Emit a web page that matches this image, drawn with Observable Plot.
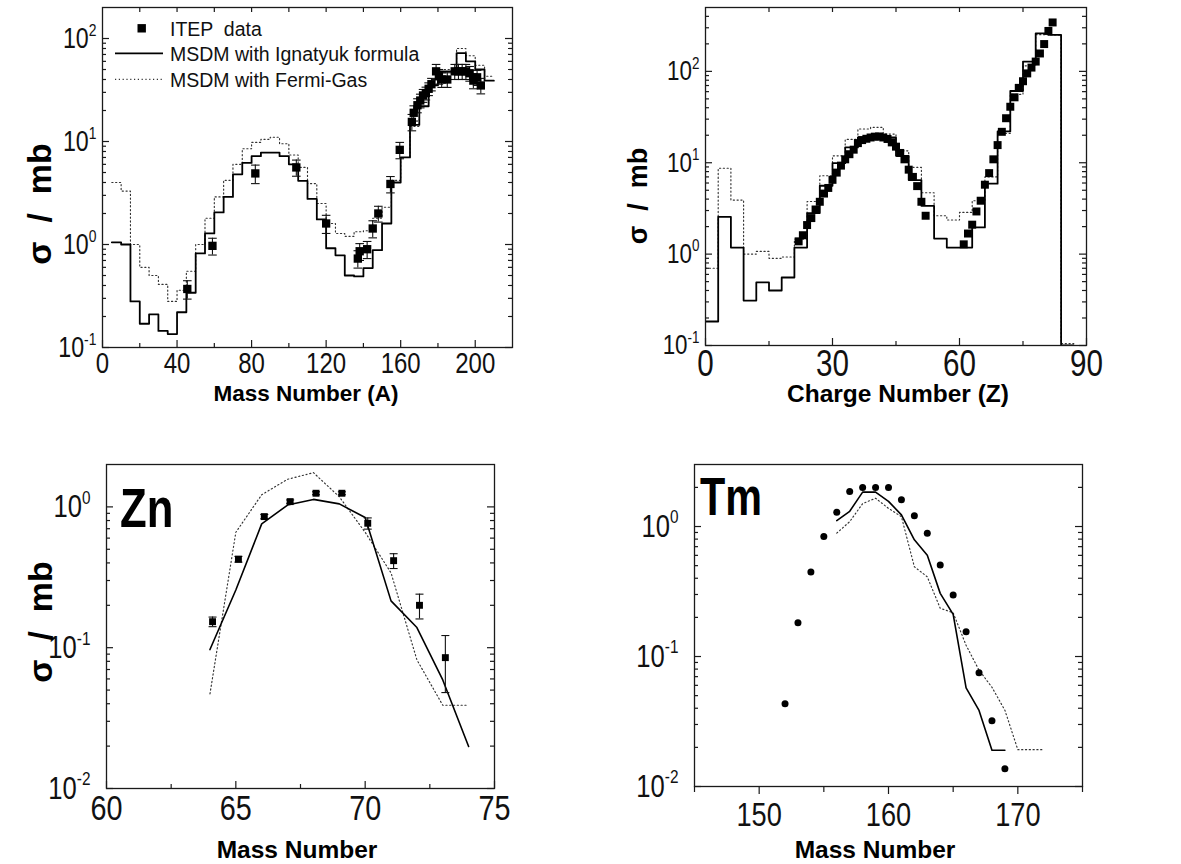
<!DOCTYPE html>
<html><head><meta charset="utf-8">
<script src="https://cdn.jsdelivr.net/npm/d3@7"></script>
<script src="https://cdn.jsdelivr.net/npm/@observablehq/plot@0.6"></script>
<style>
html,body{margin:0;padding:0;background:#fff;}
#chart{position:relative;width:1181px;height:864px;overflow:hidden;background:#fff;}
.panel{position:absolute;}
</style></head><body><div id="chart"></div>
<script>
// ---------------- Panel (a): mass distribution ----------------
const massBinStart = [5,10,15,20,25,30,35,40,45,50,55,60,65,70,75,80,85,90,95,100,105,110,115,120,125,130,135,140,145,150,155,160,165,170,175,180,185,190,195,200,205];
const massBinWidth = 5;
const sigmaIgnatyukA = [1.05,1.0,0.28,0.17,0.21,0.145,0.135,0.22,0.34,0.82, 1.28,2.05,2.9,4.8,6.2,7.2,7.8,7.8,7.2,6.0, 4.15,2.77,1.75,0.92,0.785,0.50,0.49,0.59,0.88,1.6, 4.0,7.0,14.5,22,35,48,48,72,60,50, 39];
const sigmaFermiGasA = [4.0,3.3,1.0,0.6,0.5,0.41,0.28,0.36,0.55,1.0, 1.8,2.9,4.2,6.0,8.5,9.8,10.5,11,9.5,7.4, 5.6,3.9,2.5,1.6,1.28,1.2,1.33,1.36,1.8,2.3, 4.2,7.0,14,22,36,50,50,80,68,55, 43];
const itepMass = [45.5,59,82,104,120,137,138,142,145,148, 154.5,159.5,166,167,169,170.5,172,173.5,175,176.5, 179,180.5,182,185,189,191,193,195,197,199,201,203];
const itepSigmaA = [0.37,0.97,4.9,5.6,1.6,0.73,0.86,0.9,1.43,2.0, 3.87,8.3,15.5,19,22.5,25,28,29.5,32.5,36, 48,43,40,40,48,48,48,48,46,39,42,35];
const itepErrA = [0.075,0.18,1.0,1.0,0.32,0.14,0.16,0.17,0.27,0.35, 0.7,1.5,2.8,3.2,3.5,3.8,4,4.2,4.6,5, 8,7,6.5,6.5,8,8,8,8,7.5,6.5,7,6];

// ---------------- Panel (b): charge distribution ----------------
const chargeBinStart = [0,3,6,9,12,15,18,21,24,27,30,33,36,39,42,45,48,51,54,57,60,63,66,69,72,75,78,81,84];
const chargeBinWidth = 3;
const sigmaIgnatyukZ = [0.183,2.56,1.18,0.31,0.49,0.40,0.555,1.18,2.81,5.6, 9.9,14.7,18.9,19.8,18.9,11.9,6.46,3.38,1.48,1.18, 1.18,1.96,5.9,22,61,128,261,251,0.1];
const sigmaFermiGasZ = [0.70,8.7,3.9,1.0,1.07,0.90,0.93,1.46,3.77,7.2, 11.9,18,23.4,24.4,20.6,13.5,8.9,4.7,2.63,2.36, 2.86,3.84,7.0,21,56,115,252,250,0.105];
const itepCharge = [22,23,24,25,26,27,28,29,30,31,32,33,34,35,36,37,38,39,40,41,42,43,44,45,46,47,48,49,50,51,52, 61,62,63,64,65,66,67,68,69,70,71,72,73,74,75,76,77,78,79,80,81,82];
const itepSigmaZ = [1.38,1.61,2.08,2.48,3.08,3.74,4.6,5.3,6.5,7.8, 9.3,10.9,12.4,13.9,16.4,17.7,18.3,18.9,19.3,19.4, 18.9,18.2,16.7,15,12.8,10.9,8.4,7.0,5.55,3.74, 2.63,
  1.28,1.68,2.1,2.93,3.84,5.75,7.7,10.9,15.6,21.8, 30.7,41,52,66,78,95,110,128,157,199, 277,343];

// ---------------- Panel (c): Zn isotopes ----------------
const massZnModel = [64,65,66,67,68,69,70,71,72,73,74];
const sigmaIgnatyukZn = [0.097,0.257,0.757,1.03,1.13,1.05,0.84,0.215,0.139,0.059,0.0199];
const sigmaFermiGasZn = [0.047,0.66,1.22,1.57,1.75,1.18,0.66,0.34,0.082,0.039,0.039];
const itepMassZn = [64.1,65.1,66.1,67.1,68.1,69.1,70.1,71.1,72.1,73.1];
const itepSigmaZn = [0.153,0.425,0.853,1.09,1.25,1.25,0.765,0.415,0.20,0.085];
const itepErrZn = [0.012,0.02,0.03,0.03,0.03,0.03,0.07,0.05,0.04,0.037];

// ---------------- Panel (d): Tm isotopes ----------------
const massTmIg = [156,157,158,159,160,161,162,163,164,165,166,167,168,169];
const sigmaIgnatyukTm = [1.11,1.31,1.84,1.84,1.56,1.23,0.79,0.60,0.306,0.211,0.0574,0.0385,0.019,0.019];
const massTmFg = [156,157,158,159,160,161,162,163,164,165,166,167,168,169,170,171,172];
const sigmaFermiGasTm = [0.89,1.09,1.50,1.65,1.38,1.19,0.49,0.41,0.235,0.217,0.122,0.0785,0.058,0.0386,0.0192,0.0192,0.0192];
const itepMassTm = [152,153,154,155,156,157,158,159,160,161,162,163,164,165,166,167,168,169];
const itepSigmaTm = [0.0434,0.182,0.447,0.837,1.29,1.86,2.0,2.0,2.0,1.61,1.21,0.888,0.506,0.297,0.155,0.075,0.032,0.0137];

// ---------------- Text ----------------
const legendLabels = ["ITEP  data", "MSDM with Ignatyuk formula", "MSDM with Fermi-Gas"];
const yTitle = "σ  /  mb";

// ---------------- helpers ----------------
const FONT = '"Liberation Sans", Arial, Helvetica, sans-serif';
const SQUEEZE = 0.8;
function steps(starts, vals, w) {
  const pts = starts.map((x, i) => ({x, y: vals[i]}));
  pts.push({x: starts[starts.length - 1] + w, y: vals[vals.length - 1]});
  return pts;
}
function pairs(xs, ys, es) { return xs.map((x, i) => ({x, y: ys[i], e: es ? es[i] : 0})); }
function logMajor([lo, hi]) { const o = []; for (let e = Math.ceil(Math.log10(lo) - 1e-9); e <= Math.floor(Math.log10(hi) + 1e-9); e++) o.push(10 ** e); return o; }
function logMinor([lo, hi]) { const o = []; for (let e = Math.floor(Math.log10(lo)); e <= Math.ceil(Math.log10(hi)); e++) for (let k = 2; k <= 9; k++) { const v = k * 10 ** e; if (v > lo * 1.0001 && v < hi * 0.9999) o.push(v); } return o; }
const capSymbol = { draw(ctx, size) { const w = Math.sqrt(size / Math.PI); ctx.moveTo(-w, 0); ctx.lineTo(w, 0); } };
const SOLID = {stroke: "#000", strokeWidth: 1.8, clip: true};
const DOTTED = {stroke: "#333", strokeWidth: 1.15, strokeDasharray: "1.2 2.6", clip: true};

// horizontally condense a text about its anchor point (keeps em-based y offsets)
function squeeze(el, s) {
  let tr = el.getAttribute("transform") || "";
  const x = el.getAttribute("x");
  if (x != null && /^-?[\d.]+$/.test(x)) { tr += ` translate(${+x},0)`; el.removeAttribute("x"); }
  el.setAttribute("transform", tr + ` scale(${s},1)`);
}

function makePanel(c) {
  const pw = c.width - c.ml - c.mr, ph = c.height - c.mt - c.mb;
  const yMaj = logMajor(c.yDomain), yMin = logMinor(c.yDomain);
  const S = {stroke: "#1a1a1a", strokeWidth: 1.2};
  const MAJ = 7, MIN = 4;
  const ticks = [];
  const bottom = (vals, len) => c.xOut
    ? Plot.tickX(vals, {x: d => d, insetTop: ph, insetBottom: -len, ...S})
    : Plot.tickX(vals, {x: d => d, insetTop: ph - len, ...S});
  ticks.push(bottom(c.xMajor, MAJ + (c.xOut ? 1 : 0)), bottom(c.xMinor, MIN + (c.xOut ? 2 : 0)));
  if (c.topTicks) ticks.push(Plot.tickX(c.topTicks, {x: d => d, insetBottom: ph - 5, ...S}));
  ticks.push(Plot.tickY(yMaj, {y: d => d, insetRight: pw - MAJ, ...S}));
  ticks.push(Plot.tickY(yMin, {y: d => d, insetRight: pw - MIN, ...S}));
  ticks.push(Plot.tickY(yMaj, {y: d => d, insetLeft: pw - MAJ, ...S}));
  ticks.push(Plot.tickY(yMin, {y: d => d, insetLeft: pw - MIN, ...S}));

  const svg = Plot.plot({
    width: c.width, height: c.height,
    marginTop: c.mt, marginRight: c.mr, marginBottom: c.mb, marginLeft: c.ml,
    x: {domain: c.xDomain, label: null},
    y: {type: "log", domain: c.yDomain, label: null},
    style: {fontFamily: FONT, background: "transparent", color: "#111", overflow: "visible"},
    marks: [
      ...c.marks,
      ...ticks,
      Plot.frame({stroke: "#1a1a1a", strokeWidth: 1.3}),
      Plot.axisX({ticks: c.xMajor, tickSize: 0, tickPadding: c.xPad, fontSize: c.xFont, tickFormat: d => String(d), label: null}),
      Plot.axisY({ticks: yMaj, tickSize: 0, tickPadding: c.yPad, fontSize: c.yFont, tickFormat: d => "10^" + Math.round(Math.log10(d)), label: null})
    ]
  });
  const s = d3.select(svg);
  s.selectAll('g[aria-label="y-axis tick label"] text').each(function () {
    const m = this.textContent.match(/^10\^(-?\d+)$/);
    if (m) {
      this.textContent = "10";
      d3.select(this).append("tspan").attr("dy", -0.42 * c.yFont).attr("font-size", 0.6 * c.yFont).text(m[1]);
    }
    squeeze(this, SQUEEZE);
  });
  s.selectAll('g[aria-label="x-axis tick label"] text').each(function () { squeeze(this, SQUEEZE); });

  // axis titles
  s.append("text").attr("x", c.xTitle.x).attr("y", c.xTitle.y).attr("text-anchor", "middle")
    .attr("font-weight", "bold").attr("font-size", c.xTitle.size).attr("fill", "#000").text(c.xTitle.text);
  if (c.yTitleCfg) {
    s.append("text").attr("transform", `translate(${c.yTitleCfg.x},${c.yTitleCfg.y}) rotate(-90)`)
      .attr("text-anchor", "middle").attr("font-weight", "bold").attr("font-size", c.yTitleCfg.size)
      .attr("fill", "#000").style("white-space", "pre").text(yTitle);
  }
  if (c.tag) {
    s.append("text").attr("transform", `translate(${c.tag.x},${c.tag.y}) scale(${0.78},1)`)
      .attr("text-anchor", "start").attr("font-weight", "bold").attr("font-size", c.tag.size)
      .attr("fill", "#000").text(c.tag.text);
  }
  if (c.after) c.after(s, c);
  return svg;
}

const chart = document.getElementById("chart");
function addPanel(c) {
  const div = document.createElement("div");
  div.className = "panel"; div.style.left = c.left + "px"; div.style.top = c.top + "px";
  div.appendChild(makePanel(c)); chart.appendChild(div);
}

function errorMarks(data, r) {
  return [
    Plot.ruleX(data, {x: "x", y1: d => d.y - d.e, y2: d => d.y + d.e, stroke: "#111", strokeWidth: 1.1}),
    Plot.dot(data, {x: "x", y: d => d.y - d.e, symbol: capSymbol, r, fill: "none", stroke: "#111", strokeWidth: 1.1}),
    Plot.dot(data, {x: "x", y: d => d.y + d.e, symbol: capSymbol, r, fill: "none", stroke: "#111", strokeWidth: 1.1})
  ];
}

// ---- Panel (a)
const itepA = pairs(itepMass, itepSigmaA, itepErrA);
addPanel({
  left: 0, top: 0, width: 590, height: 420, ml: 102, mt: 7, mr: 78, mb: 73,
  xDomain: [0, 220], yDomain: [0.1, 200],
  xMajor: [0, 40, 80, 120, 160, 200], xMinor: [20, 60, 100, 140, 180],
  topTicks: [20, 40, 60, 80, 100, 120, 140, 160, 180, 200],
  xFont: 30, xPad: 4, yFont: 29, yPad: 6,
  xTitle: {text: "Mass Number (A)", x: 306, y: 401, size: 22.5},
  yTitleCfg: {x: 51, y: 204, size: 34},
  marks: [
    Plot.line(steps(massBinStart, sigmaFermiGasA, massBinWidth), {x: "x", y: "y", curve: "step-after", ...DOTTED}),
    Plot.line(steps(massBinStart, sigmaIgnatyukA, massBinWidth), {x: "x", y: "y", curve: "step-after", ...SOLID}),
    ...errorMarks(itepA, 4.3),
    Plot.dot(itepA, {x: "x", y: "y", symbol: "square", r: 4.7, fill: "#000"})
  ],
  after(s, c) {
    const x0 = 115, x1 = 163, tx = 170, fs = 19.5;
    s.append("rect").attr("x", 141.7 - 4.2).attr("y", 28.3 - 4.2).attr("width", 8.4).attr("height", 8.4).attr("fill", "#000");
    s.append("line").attr("x1", x0).attr("x2", x1).attr("y1", 53.3).attr("y2", 53.3).attr("stroke", "#000").attr("stroke-width", 1.8);
    s.append("line").attr("x1", x0).attr("x2", x1).attr("y1", 79.3).attr("y2", 79.3).attr("stroke", "#333").attr("stroke-width", 1.15).attr("stroke-dasharray", "1.2 2.6");
    [35.5, 60.5, 86.5].forEach((y, i) => s.append("text").attr("x", tx).attr("y", y).attr("font-size", fs)
      .attr("text-anchor", "start").attr("fill", "#111").style("white-space", "pre").text(legendLabels[i]));
  }
});

// ---- Panel (b)
addPanel({
  left: 590, top: 0, width: 591, height: 420, ml: 115, mt: 7, mr: 95, mb: 75,
  xDomain: [0, 90], yDomain: [0.1, 500],
  xMajor: [0, 30, 60, 90], xMinor: [15, 45, 75],
  topTicks: [15, 30, 45, 60, 75],
  xFont: 37, xPad: 4, yFont: 28, yPad: 6,
  xTitle: {text: "Charge Number (Z)", x: 308, y: 402, size: 24.5},
  yTitleCfg: {x: 57, y: 196, size: 27},
  marks: [
    Plot.line(steps(chargeBinStart, sigmaFermiGasZ, chargeBinWidth), {x: "x", y: "y", curve: "step-after", ...DOTTED}),
    Plot.line(steps(chargeBinStart, sigmaIgnatyukZ, chargeBinWidth), {x: "x", y: "y", curve: "step-after", ...SOLID}),
    Plot.dot(pairs(itepCharge, itepSigmaZ), {x: "x", y: "y", symbol: "square", r: 4.5, fill: "#000"})
  ]
});

// ---- Panel (c)
const itepZn = pairs(itepMassZn, itepSigmaZn, itepErrZn);
addPanel({
  left: 0, top: 430, width: 590, height: 434, ml: 106, mt: 34, mr: 96, mb: 76,
  xDomain: [60, 75], yDomain: [0.01, 2],
  xMajor: [60, 65, 70, 75], xMinor: [62.5, 67.5, 72.5],
  xFont: 36, xPad: 6, yFont: 32, yPad: 16,
  xTitle: {text: "Mass Number", x: 297, y: 428, size: 24.5},
  yTitleCfg: {x: 52, y: 192, size: 34},
  tag: {text: "Zn", x: 120, y: 97, size: 56},
  marks: [
    Plot.line(pairs(massZnModel, sigmaFermiGasZn), {x: "x", y: "y", ...DOTTED}),
    Plot.line(pairs(massZnModel, sigmaIgnatyukZn), {x: "x", y: "y", ...SOLID, strokeWidth: 1.6}),
    ...errorMarks(itepZn, 4),
    Plot.dot(itepZn, {x: "x", y: "y", symbol: "square", r: 3.9, fill: "#000"})
  ]
});

// ---- Panel (d)
addPanel({
  left: 590, top: 430, width: 591, height: 434, ml: 104, mt: 34, mr: 99, mb: 78,
  xDomain: [145, 175], yDomain: [0.01, 3],
  xMajor: [150, 160, 170], xMinor: [145, 155, 165, 175], xOut: true,
  xFont: 34, xPad: 15, yFont: 32, yPad: 16,
  xTitle: {text: "Mass Number", x: 285, y: 428, size: 24.5},
  tag: {text: "Tm", x: 110, y: 85, size: 53},
  marks: [
    Plot.line(pairs(massTmFg, sigmaFermiGasTm), {x: "x", y: "y", ...DOTTED}),
    Plot.line(pairs(massTmIg, sigmaIgnatyukTm), {x: "x", y: "y", ...SOLID, strokeWidth: 1.6}),
    Plot.dot(pairs(itepMassTm, itepSigmaTm), {x: "x", y: "y", r: 3.5, fill: "#000"})
  ]
});
</script></body></html>
